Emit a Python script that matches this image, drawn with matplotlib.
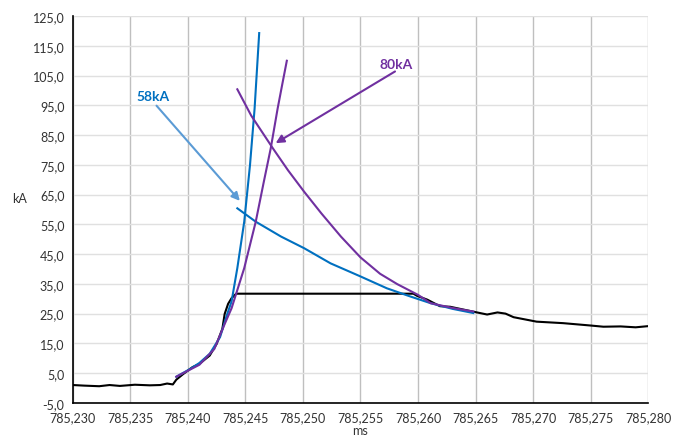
import numpy as np
import matplotlib
matplotlib.use("Agg")
import matplotlib.pyplot as plt
from matplotlib.ticker import FuncFormatter

plt.rcParams['font.family'] = ['Lato', 'DejaVu Sans']

# measured current (kA) vs time (ms)
meas_t = [785.2300, 785.2310, 785.2323, 785.2332, 785.2341, 785.2354, 785.2367,
          785.2376, 785.2382, 785.2387, 785.2390, 785.2396, 785.2404, 785.2410,
          785.2419, 785.2425, 785.2430, 785.2432, 785.2435, 785.2438, 785.2442,
          785.2596, 785.2599, 785.2608, 785.2619, 785.2628, 785.2639, 785.2650,
          785.2660, 785.2669, 785.2676, 785.2683, 785.2703, 785.2726, 785.2750,
          785.2761, 785.2776, 785.2789, 785.2800]
meas_ka = [1.0, 0.8, 0.6, 1.0, 0.7, 1.1, 0.9,
           1.0, 1.5, 1.2, 2.8, 4.7, 7.0, 8.1,
           10.9, 14.8, 19.9, 24.9, 28.3, 30.2, 31.7,
           31.7, 31.0, 29.7, 27.5, 27.3, 26.4, 25.5,
           24.7, 25.4, 25.0, 23.8, 22.3, 21.8, 21.0,
           20.6, 20.7, 20.4, 20.8]

# 58kA fit: rise and decay
rise58_t = [785.2390, 785.2402, 785.2410, 785.2419, 785.2428, 785.2434, 785.2438,
            785.2443, 785.2449, 785.2454, 785.2458, 785.2462]
rise58_ka = [3.8, 6.4, 8.4, 11.5, 17.1, 24.6, 29.1, 40.3, 55.9, 74.9, 93.9, 119.3]
decay58_t = [785.2443, 785.2459, 785.2481, 785.2501, 785.2524, 785.2550, 785.2573,
             785.2593, 785.2611, 785.2630, 785.2648]
decay58_ka = [60.4, 55.9, 50.9, 47.0, 41.9, 37.5, 33.5, 30.8, 28.5, 26.6, 25.2]

# 80kA fit: rise and decay
rise80_t = [785.2390, 785.2410, 785.2423, 785.2432, 785.2438, 785.2449, 785.2459,
            785.2466, 785.2472, 785.2478, 785.2482, 785.2486]
rise80_ka = [3.8, 7.8, 13.1, 21.5, 26.8, 40.3, 55.9, 69.3, 80.5, 93.9, 102.0, 110.0]
decay80_t = [785.2443, 785.2455, 785.2474, 785.2487, 785.2501, 785.2516, 785.2533,
             785.2550, 785.2567, 785.2582, 785.2600, 785.2611, 785.2630, 785.2648]
decay80_ka = [100.4, 91.6, 80.5, 73.2, 66.0, 58.7, 50.9, 43.9, 38.4, 34.9, 31.3,
              28.5, 26.9, 25.7]

x_ticks = np.arange(785.230, 785.2801, 0.005)
y_ticks = np.arange(-5, 126, 10)

blue = '#0070C0'
purple = '#7030A0'

fig = plt.figure(figsize=(6.86, 4.39), dpi=100)
ax = fig.add_axes([0.106, 0.080, 0.839, 0.881])

ax.plot(meas_t, meas_ka, color='black', lw=1.5, zorder=3)
ax.plot(rise58_t, rise58_ka, color=blue, lw=1.5, zorder=4)
ax.plot(decay58_t, decay58_ka, color=blue, lw=1.5, zorder=4)
ax.plot(rise80_t, rise80_ka, color=purple, lw=1.5, zorder=4)
ax.plot(decay80_t, decay80_ka, color=purple, lw=1.5, zorder=4)

# labels with arrows
ax.text(785.23696, 98.1, '58kA', color=blue, fontsize=10, fontweight='bold',
        ha='center', va='center')
ax.annotate('', xy=(785.24452, 62.9), xytext=(785.23728, 94.9),
            arrowprops=dict(arrowstyle='-|>', color='#5B9BD5', lw=1.5,
                            mutation_scale=12, shrinkA=0, shrinkB=0))
ax.text(785.25809, 108.9, '80kA', color=purple, fontsize=10, fontweight='bold',
        ha='center', va='center')
ax.annotate('', xy=(785.24763, 82.3), xytext=(785.2580, 106.4),
            arrowprops=dict(arrowstyle='-|>', color=purple, lw=1.5,
                            mutation_scale=12, shrinkA=0, shrinkB=0))

ax.set_xlim(785.230, 785.280)
ax.set_ylim(-5, 125)
ax.set_xticks(x_ticks)
ax.set_yticks(y_ticks)
ax.xaxis.set_major_formatter(FuncFormatter(lambda v, p: f'{v:.3f}'.replace('.', ',')))
ax.yaxis.set_major_formatter(FuncFormatter(lambda v, p: f'{v:.1f}'.replace('.', ',')))
ax.tick_params(length=0, labelsize=9, colors='#333333', pad=6)

ax.grid(axis='x', color='#BFBFBF', lw=1.0)
ax.grid(axis='y', color='#E0E0E0', lw=1.0)
ax.set_axisbelow(True)
for s in ['top', 'right']:
    ax.spines[s].set_visible(False)
for s in ['left', 'bottom']:
    ax.spines[s].set_color('black')
    ax.spines[s].set_linewidth(1.2)

ax.set_xlabel('ms', fontsize=9, color='#333333')
ax.xaxis.set_label_coords(0.5, -0.054)
ax.set_ylabel('kA', fontsize=9, color='#333333', rotation=0)
ax.yaxis.set_label_coords(-0.092, 0.514)

fig.savefig('out.png', dpi=100)
